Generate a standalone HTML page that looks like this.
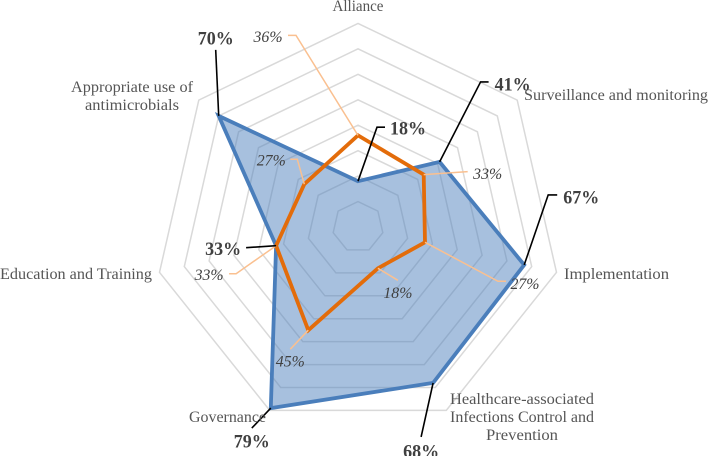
<!DOCTYPE html>
<html lang="en">
<head>
<meta charset="utf-8">
<title>Radar chart</title>
<style>
html,body{margin:0;padding:0;background:#fff;width:708px;height:456px;overflow:hidden}
svg{display:block;font-family:"Liberation Serif",serif}
</style>
</head>
<body>
<svg id="chart" width="708" height="456" viewBox="0 0 708 456" xmlns="http://www.w3.org/2000/svg"></svg>
<script>
const categories = ['Alliance','Surveillance and monitoring','Implementation','Healthcare-associated Infections Control and Prevention','Governance','Education and Training','Appropriate use of antimicrobials'];
const ringTicks = [10,20,30,40,50,60,70,80];
const blueValues = [18,41,67,68,79,33,70];
const blueLabels = ['18%','41%','67%','68%','79%','33%','70%'];
const orangeValues = [36,33,27,18,45,33,27];
const orangeLabels = ['36%','33%','27%','18%','45%','33%','27%'];

const cx = 358, cy = 227, maxR = 203.6, maxV = 80;
const svg = document.getElementById('chart');
const NS = 'http://www.w3.org/2000/svg';
function rScale(v){ return v / maxV * maxR; }
function pt(i, v){
  const a = i * 2 * Math.PI / 7;
  return [cx + rScale(v) * Math.sin(a), cy - rScale(v) * Math.cos(a)];
}
function make(tag, attrs, parent){
  const el = document.createElementNS(NS, tag);
  for (const k in attrs) el.setAttribute(k, attrs[k]);
  (parent || svg).appendChild(el);
  return el;
}
function poly(values){
  return values.map((v, i) => pt(i, v).map(n => n.toFixed(1)).join(',')).join(' ');
}

/* grid */
ringTicks.forEach(t => {
  const ring = make('polygon', {points: poly(categories.map(() => t)), fill: 'none', stroke: '#d9d9d9', 'stroke-width': 1.5});
  
  
});

/* blue area */
const blueArea = make('polygon', {points: poly(blueValues), fill: '#4f81bd', 'fill-opacity': 0.5, stroke: '#4a7ebb', 'stroke-width': 3.8, 'stroke-linejoin': 'miter'});



/* orange line */
const orangeLine = make('polygon', {points: poly(orangeValues), fill: 'none', stroke: '#e36c0a', 'stroke-width': 3.8, 'stroke-linejoin': 'miter'});



/* label layout: connector bends and label centre, relative to each data point */
const blueConnectors = [[[19,-54],[27,-54]],[[41,-80],[49,-80]],[[24,-70],[33,-70]],[[-12,54]],[[-19,20]],[[-30,2]],[[-3,-66]]];
const blueLabelOffsets = [[50,-53],[73,-78],[57,-68],[-12,68],[-19,33],[-53,3],[-3,-78]];
const orangeConnectors = [[[-62,-100],[-70,-100]],[[44,-3]],[[73,39],[81,39]],[[20,12]],[[-18,19]],[[-40,28],[-47,28]],[[-7,-25],[-14,-25]]];
const orangeLabelOffsets = [[-90,-99],[64,-1],[100,41],[20,24],[-18,31],[-67,29],[-33,-24]];

function connectorPath(p, bends){
  return [p].concat(bends.map(b => [p[0] + b[0], p[1] + b[1]])).map(q => q[0].toFixed(1) + ',' + q[1].toFixed(1)).join(' ');
}

orangeValues.forEach((v, i) => {
  const p = pt(i, v);
  const line = make('polyline', {points: connectorPath(p, orangeConnectors[i]), fill: 'none', stroke: '#fac090', 'stroke-width': 1.5});
  
  
  const t = make('text', {x: p[0] + orangeLabelOffsets[i][0], y: p[1] + orangeLabelOffsets[i][1] + 5.5, 'text-anchor': 'middle', 'font-size': 16, 'font-style': 'italic', fill: '#404040', textLength: 29, lengthAdjust: 'spacingAndGlyphs'});
  t.textContent = orangeLabels[i];
  
  
});

blueValues.forEach((v, i) => {
  const p = pt(i, v);
  const line = make('polyline', {points: connectorPath(p, blueConnectors[i]), fill: 'none', stroke: '#000', 'stroke-width': 1.6});
  
  
  const t = make('text', {x: p[0] + blueLabelOffsets[i][0], y: p[1] + blueLabelOffsets[i][1] + 6.5, 'text-anchor': 'middle', 'font-size': 19, 'font-weight': 'bold', fill: '#404040', textLength: 36, lengthAdjust: 'spacingAndGlyphs'});
  t.textContent = blueLabels[i];
  
  
});

/* category labels: per-line text with placement */
const categoryLines = [['Alliance'],['Surveillance and monitoring'],['Implementation'],['Healthcare-associated','Infections Control and','Prevention'],['Governance'],['Education and Training'],['Appropriate use of','antimicrobials']];
const categoryPlacement = [[358,11,51],[616,100,184],[616.5,279,105],[498,404,144],[227.5,422,77],[76,279,152],[132,92,122]];
const lineCentreAndWidth = {'Healthcare-associated':[522,144],'Infections Control and':[522,144],'Prevention':[522,72],'antimicrobials':[132,94]};
categoryLines.forEach((lines, i) => {
  const g = make('text', {'font-size': 16, fill: '#555555', 'text-anchor': 'middle'});
  
  
  lines.forEach((ln, j) => {
    const cw = lineCentreAndWidth[ln] || [categoryPlacement[i][0], categoryPlacement[i][2]];
    const s = make('tspan', {x: cw[0], y: categoryPlacement[i][1] + j * 18, textLength: cw[1], lengthAdjust: 'spacingAndGlyphs'}, g);
    s.textContent = ln;
  });
});
</script>
</body>
</html>
